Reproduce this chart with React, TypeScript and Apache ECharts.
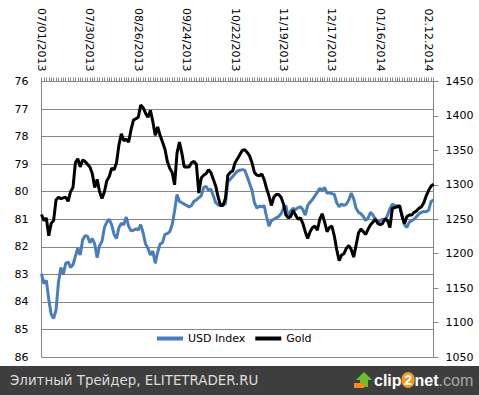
import React, { useEffect, useRef } from "react";
import * as echarts from "echarts";

const dateLabels = [
  "07/01/2013", "07/30/2013", "08/26/2013", "09/24/2013", "10/22/2013",
  "11/19/2013", "12/17/2013", "01/16/2014", "02.12.2014",
];
const labelEvery = 20;

const usdIndex = [
  82.98, 83.34, 83.22, 83.9, 84.45, 84.6, 84.3, 83.3, 82.75, 83.0,
  82.6, 82.55, 82.75, 82.65, 82.35, 82.05, 82.3, 81.75, 81.6, 81.62,
  81.85, 81.7, 81.9, 82.4, 81.95, 81.8, 81.3, 81.1, 81.0, 81.2,
  81.55, 81.7, 81.3, 81.15, 81.2, 80.92, 81.25, 81.42, 81.4, 81.35,
  81.38, 81.2, 81.5, 81.9, 82.05, 82.3, 82.15, 82.6, 82.2, 81.9,
  81.85, 81.55, 81.52, 81.45, 81.2, 80.7, 80.1, 80.35, 80.4, 80.45,
  80.5, 80.55, 80.5, 80.35, 80.3, 80.22, 80.15, 79.85, 79.8, 79.95,
  79.9, 80.15, 80.4, 80.48, 80.5, 80.45, 80.45, 79.65, 79.55, 79.45,
  79.35, 79.25, 79.22, 79.2, 79.22, 79.45, 79.7, 79.95, 80.4, 80.6,
  80.52, 80.55, 80.5, 80.9, 81.25, 81.05, 81.0, 80.95, 80.9, 80.8,
  80.6, 80.5, 80.95, 80.7, 80.6, 80.65, 80.58, 80.55, 80.65, 80.85,
  80.5, 80.38, 80.28, 80.15, 80.02, 79.88, 79.95, 79.85, 80.05, 80.05,
  80.07, 80.1, 80.4, 80.55, 80.45, 80.5, 80.45, 80.3, 80.05, 80.25,
  80.6, 80.75, 80.8, 80.9, 81.05, 80.95, 80.75, 80.85, 81.0, 81.1,
  81.05, 81.0, 81.05, 80.85, 80.62, 80.45, 80.5, 80.52, 80.55, 80.85,
  81.2, 81.3, 81.1, 81.05, 81.0, 80.9, 80.8, 80.75, 80.72, 80.73,
  80.67, 80.35, 80.3,
];

const gold = [
  1257, 1248, 1252, 1226, 1244, 1248, 1278, 1282, 1280, 1281,
  1282, 1276, 1290, 1296, 1332, 1338, 1326, 1336, 1334, 1330,
  1326, 1316, 1296, 1308, 1290, 1280, 1290, 1306, 1312, 1324,
  1322, 1332, 1358, 1374, 1364, 1366, 1362, 1380, 1394, 1396,
  1398, 1416, 1412, 1404, 1398, 1408, 1392, 1372, 1384, 1372,
  1362, 1352, 1334, 1324, 1318, 1300, 1346, 1362, 1346, 1326,
  1326, 1326, 1332, 1334, 1330, 1288, 1310, 1314, 1316, 1322,
  1318, 1308, 1298, 1282, 1270, 1270, 1280, 1314, 1318, 1320,
  1332, 1338, 1344, 1350, 1351, 1347, 1342, 1332, 1318, 1314,
  1313, 1316, 1308, 1295, 1284, 1270, 1282, 1286, 1286, 1282,
  1272, 1256, 1252, 1254, 1263, 1256, 1250, 1252, 1244, 1232,
  1222, 1232, 1238, 1240, 1234, 1250, 1258, 1246, 1232, 1238,
  1240, 1226, 1206, 1190, 1198, 1200, 1208, 1212, 1206, 1195,
  1212, 1230, 1236, 1232, 1228, 1236, 1242, 1246, 1250, 1244,
  1242, 1244, 1251, 1248, 1238, 1266, 1267, 1268, 1270, 1254,
  1244, 1254, 1256, 1256, 1260, 1262, 1266, 1268, 1274, 1284,
  1292, 1298, 1301,
];

const categories = usdIndex.map((_, i) =>
  i % labelEvery === 0 ? dateLabels[i / labelEvery] ?? "" : ""
);

const FONT = "DejaVu Sans";
const LOGO_FONT = "Liberation Sans";
const GRID_COLOR = "#868686";

export default function App() {
  const ref = useRef<HTMLDivElement>(null);
  useEffect(() => {
    if (!ref.current) return;
    const chart = echarts.init(ref.current, null, { renderer: "svg" });
    chart.setOption({
      animation: false,
      backgroundColor: "#ffffff",
      textStyle: { fontFamily: FONT },
      grid: { left: 41.5, right: 45.5, top: 81.5, bottom: 38, containLabel: false },
      legend: {
        data: ["USD Index", "Gold"],
        left: 157,
        top: 333,
        padding: 0,
        itemGap: 10,
        itemWidth: 26,
        itemHeight: 4,
        icon: "rect",
        textStyle: { fontFamily: FONT, fontSize: 11, color: "#000" },
      },
      xAxis: {
        type: "category",
        position: "top",
        data: categories,
        boundaryGap: false,
        axisLine: { show: true, lineStyle: { color: GRID_COLOR, width: 1 } },
        axisTick: { show: true, interval: 0, length: 4, lineStyle: { color: GRID_COLOR } },
        axisLabel: {
          interval: labelEvery - 1,
          rotate: 90,
          margin: 10,
          fontFamily: FONT,
          fontSize: 11,
          color: "#000",
        },
        splitLine: { show: false },
      },
      yAxis: [
        {
          type: "value",
          inverse: true,
          min: 76,
          max: 86,
          interval: 1,
          position: "left",
          axisLine: { show: true, lineStyle: { color: GRID_COLOR, width: 1 } },
          axisTick: { show: false },
          axisLabel: { margin: 13, fontFamily: FONT, fontSize: 11, color: "#000" },
          splitLine: { show: true, lineStyle: { color: GRID_COLOR, width: 1 } },
        },
        {
          type: "value",
          min: 1050,
          max: 1450,
          interval: 50,
          position: "right",
          axisLine: { show: true, lineStyle: { color: GRID_COLOR, width: 1 } },
          axisTick: { show: true, length: 5, lineStyle: { color: GRID_COLOR } },
          axisLabel: {
            margin: 12,
            fontFamily: FONT,
            fontSize: 11,
            color: "#000",
            formatter: (v: number) => String(v),
          },
          splitLine: { show: false },
        },
      ],
      series: [
        {
          name: "USD Index",
          type: "line",
          yAxisIndex: 0,
          data: usdIndex,
          showSymbol: false,
          symbol: "none",
          color: "#4A7EBB",
          lineStyle: { color: "#4A7EBB", width: 3 },
          z: 2,
        },
        {
          name: "Gold",
          type: "line",
          yAxisIndex: 1,
          data: gold,
          showSymbol: false,
          symbol: "none",
          color: "#000000",
          lineStyle: { color: "#000000", width: 3 },
          z: 3,
        },
      ],
      graphic: [
        {
          type: "rect",
          shape: { x: 0, y: 366, width: 479, height: 29 },
          style: { fill: "#3e3e3e" },
          z: 10,
        },
        {
          type: "text",
          x: 10,
          y: 380,
          style: {
            text: "Элитный Трейдер, ELITETRADER.RU",
            fill: "#dcdcdc",
            font: `13.4px "${FONT}"`,
            verticalAlign: "middle",
            textAlign: "left",
          },
          z: 11,
        },
        {
          type: "polygon",
          shape: {
            points: [
              [364, 372], [356, 380], [360, 380], [360, 387],
              [368, 387], [368, 380], [372, 380],
            ],
          },
          style: { fill: "#6cbf2a" },
          z: 11,
        },
        {
          type: "rect",
          shape: { x: 354, y: 383, width: 10, height: 5 },
          style: { fill: "#f08a1c" },
          z: 12,
        },
        {
          type: "text",
          x: 374,
          y: 380,
          style: {
            text: "{w|clip}{o|2}{w|net}{g|.com}",
            verticalAlign: "middle",
            textAlign: "left",
            rich: {
              w: { fill: "#ffffff", fontSize: 16, fontWeight: "bold", fontFamily: LOGO_FONT },
              o: {
                fill: "#ffffff",
                fontSize: 14,
                fontWeight: "bold",
                fontFamily: LOGO_FONT,
                backgroundColor: "#f39a1e",
                borderRadius: 8,
                width: 13,
                height: 16,
                align: "center",
              },
              g: { fill: "#a8a8a8", fontSize: 16, fontFamily: LOGO_FONT },
            },
          },
          z: 11,
        },
      ],
    });
    return () => chart.dispose();
  }, []);
  return (
    <div
      ref={ref}
      style={{ position: "fixed", left: 0, top: 0, width: 479, height: 395, background: "#fff" }}
    />
  );
}
